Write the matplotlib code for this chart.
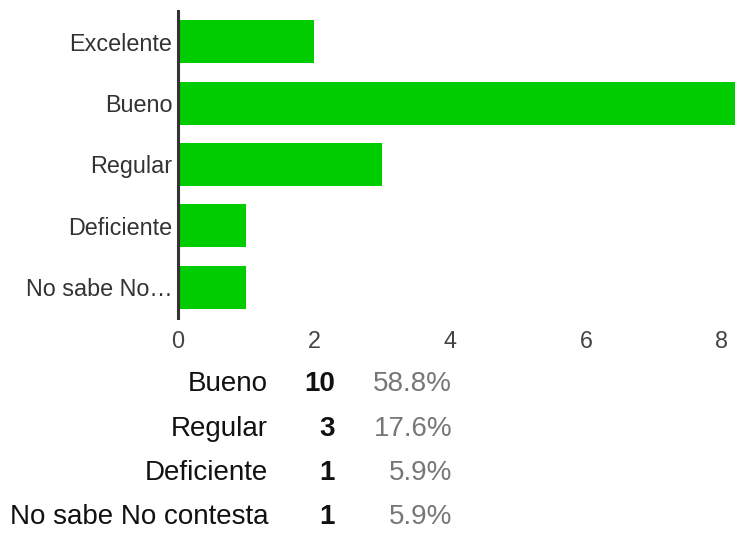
import matplotlib
matplotlib.use("Agg")
import matplotlib.pyplot as plt

plt.rcParams["font.family"] = ["Liberation Sans", "DejaVu Sans"]

# chart data
categories = ["Excelente", "Bueno", "Regular", "Deficiente", "No sabe No…"]
counts = [2, 10, 3, 1, 1]
xticks = [0, 2, 4, 6, 8]

# summary table below the chart (visible rows)
table_labels = ["Bueno", "Regular", "Deficiente", "No sabe No contesta"]
table_counts = ["10", "3", "1", "1"]
table_pcts = ["58.8%", "17.6%", "5.9%", "5.9%"]

W, H = 735, 536
fig = plt.figure(figsize=(W / 100, H / 100), dpi=100)
ax = fig.add_axes([178 / W, 1 - 318 / H, 1 - 178 / W, (318 - 11) / H])

ypos = list(range(len(categories)))
ax.barh(ypos, counts, height=0.70, color="#00cc00", zorder=2)
ax.set_ylim(len(categories) - 0.5, -0.5)
ax.set_xlim(0, (W - 178) / 68)

ax.set_yticks(ypos)
ax.set_yticklabels(categories, fontsize=16.8, color="#333333")
ax.set_xticks(xticks)
ax.set_xticklabels([str(t) for t in xticks], fontsize=16.8, color="#444444")
ax.tick_params(axis="both", length=0)
ax.tick_params(axis="y", pad=4)
ax.tick_params(axis="x", pad=9)

for side in ("top", "right", "bottom"):
    ax.spines[side].set_visible(False)
ax.spines["left"].set_linewidth(2.2)
ax.spines["left"].set_color("#333333")
ax.spines["left"].set_zorder(3)

# table rows
baselines = [391, 436, 480, 524]
for lab, cnt, pct, yb in zip(table_labels, table_counts, table_pcts, baselines):
    y = 1 - yb / H
    fig.text(268 / W, y, lab, ha="right", va="baseline", fontsize=20, color="#111111")
    fig.text(335 / W, y, cnt, ha="right", va="baseline", fontsize=20,
             color="#111111", fontweight="bold")
    fig.text(452 / W, y, pct, ha="right", va="baseline", fontsize=20, color="#777777")

fig.savefig("out.png", dpi=100)
